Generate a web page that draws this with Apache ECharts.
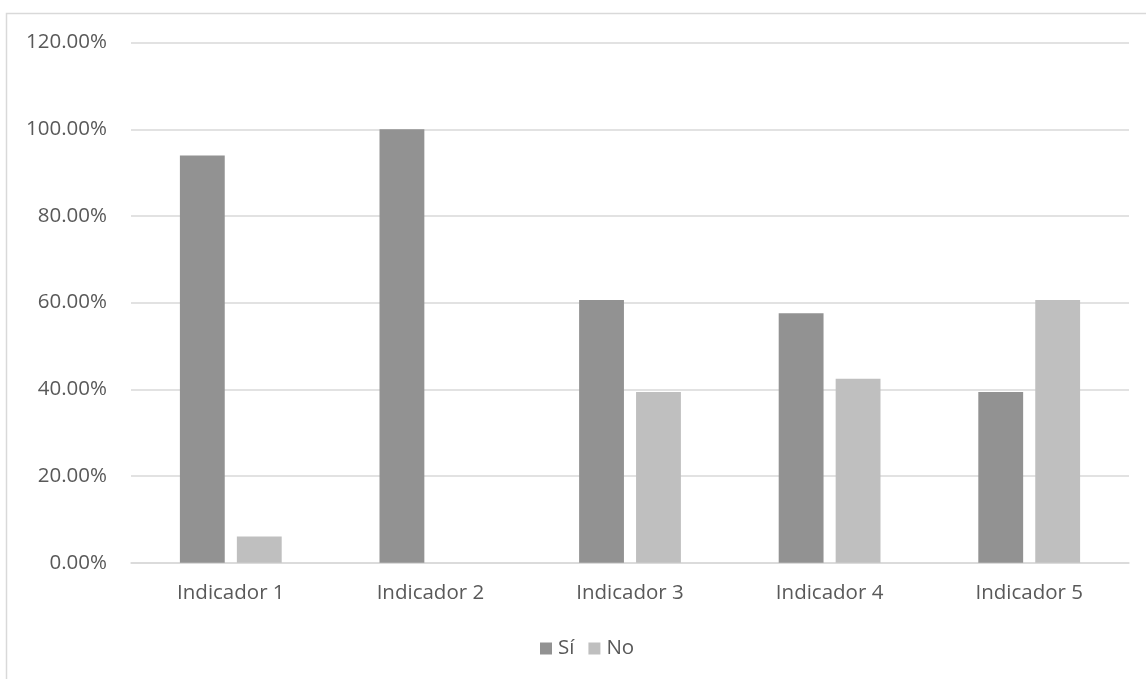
<!DOCTYPE html>
<html>
<head>
<meta charset="utf-8">
<script src="https://cdn.jsdelivr.net/npm/echarts@6/dist/echarts.min.js"></script>
<style>
html,body{margin:0;padding:0;background:#fff;}
#chart{width:1146px;height:679px;}
</style>
</head>
<body>
<div id="chart"></div>
<script>
var categories = ['Indicador 1', 'Indicador 2', 'Indicador 3', 'Indicador 4', 'Indicador 5'];
var siValues = [93.94, 100, 60.61, 57.58, 39.39];
var noValues = [6.06, 0, 39.39, 42.42, 60.61];
var seriesNames = ['Sí', 'No'];

var FONT = "'Open Sans', 'Noto Sans', sans-serif";
var FS = 20.5;
var chart = echarts.init(document.getElementById('chart'), null, {renderer: 'canvas'});
chart.setOption({
  backgroundColor: '#ffffff',
  animation: false,
  graphic: [{
    type: 'rect',
    shape: {x: 6.5, y: 13.5, width: 1300, height: 800},
    style: {fill: 'none', stroke: '#d9d9d9', lineWidth: 1.5},
    silent: true
  }],
  grid: {left: 131, right: 17, top: 42.6, bottom: 116.3, containLabel: false},
  legend: {
    data: seriesNames,
    top: 633,
    left: 535,
    icon: 'rect',
    itemWidth: 12,
    itemHeight: 12,
    itemGap: 14,
    textStyle: {color: '#595959', fontSize: FS, fontFamily: FONT, padding: [0, 0, 0, 1]}
  },
  xAxis: {
    type: 'category',
    data: categories,
    axisTick: {show: false},
    axisLine: {lineStyle: {color: '#d9d9d9', width: 1.5}},
    axisLabel: {color: '#595959', fontSize: FS, fontFamily: FONT, margin: 20}
  },
  yAxis: {
    type: 'value',
    min: 0,
    max: 120,
    interval: 20,
    axisLine: {show: false},
    axisTick: {show: false},
    splitLine: {lineStyle: {color: '#d9d9d9', width: 1.5}},
    axisLabel: {
      color: '#595959', fontSize: FS, fontFamily: FONT, margin: 24,
      formatter: function (v) { return v.toFixed(2) + '%'; }
    }
  },
  series: [
    {name: seriesNames[0], type: 'bar', data: siValues, barGap: '27%', barCategoryGap: '49%',
     itemStyle: {color: '#929292'}},
    {name: seriesNames[1], type: 'bar', data: noValues, barGap: '27%', barCategoryGap: '49%',
     itemStyle: {color: '#bfbfbf'}}
  ]
});
</script>
</body>
</html>
